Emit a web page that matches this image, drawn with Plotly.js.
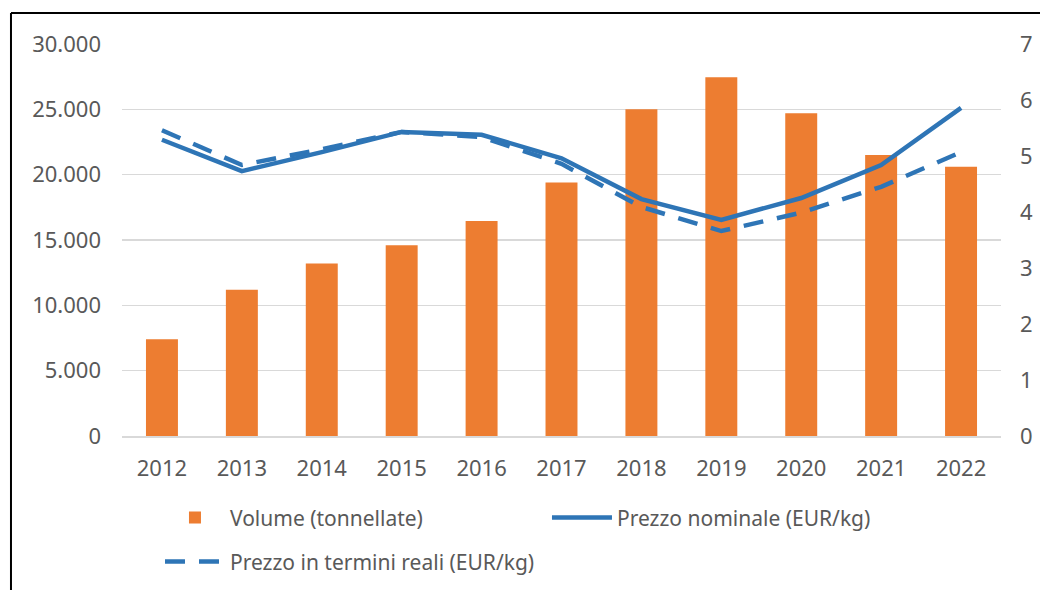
<!DOCTYPE html>
<html><head><meta charset="utf-8">
<script src="https://cdn.plot.ly/plotly-3.0.1.min.js"></script>
<style>html,body{margin:0;padding:0;background:#fff}#c{width:1040px;height:590px}</style>
</head><body><div id="c"></div>
<script>
const years = ['2012','2013','2014','2015','2016','2017','2018','2019','2020','2021','2022'];
const volume = [7400, 11200, 13200, 14600, 16450, 19400, 25000, 27450, 24700, 21500, 20600];
const nominalPrice = [5.29, 4.73, 5.07, 5.43, 5.38, 4.96, 4.23, 3.86, 4.25, 4.84, 5.86];
const realPrice = [5.46, 4.84, 5.12, 5.43, 5.34, 4.86, 4.09, 3.66, 3.99, 4.45, 5.07];
const seriesNames = ['Volume (tonnellate)', 'Prezzo nominale (EUR/kg)', 'Prezzo in termini reali (EUR/kg)'];

const grey = '#595959';
const tickFont = {family: 'Noto Sans, Open Sans, sans-serif', size: 22, color: grey};
const legFont = {family: 'Noto Sans, Open Sans, sans-serif', size: 21, color: grey};

const traces = [
  {type: 'bar', x: years, y: volume, name: seriesNames[0], marker: {color: '#ED7D31'}, width: 0.4, yaxis: 'y', legend: 'legend'},
  {type: 'scatter', mode: 'lines', x: years, y: nominalPrice, name: seriesNames[1], line: {color: '#2E75B6', width: 4.5}, yaxis: 'y2', legend: 'legend'},
  {type: 'scatter', mode: 'lines', x: years, y: realPrice, name: seriesNames[2], line: {color: '#2E75B6', width: 4.5, dash: '20px,14px'}, yaxis: 'y2', legend: 'legend2'}
];

const layout = {
  width: 1040, height: 590,
  margin: {l: 122, r: 39, t: 44, b: 154, autoexpand: false},
  paper_bgcolor: '#fff', plot_bgcolor: '#fff',
  font: tickFont,
  separators: ',.',
  showlegend: true,
  xaxis: {type: 'category', tickfont: tickFont, showgrid: false, showline: true, linecolor: '#D9D9D9', linewidth: 1.5, ticks: '', ticklabelstandoff: 12, range: [-0.5, 10.5]},
  yaxis: {range: [0, 30000], dtick: 5000, tickformat: ',d', tickfont: tickFont, gridcolor: '#D9D9D9', gridwidth: 1.5, zeroline: false, ticks: '', ticklabelstandoff: 20},
  yaxis2: {range: [0, 7], dtick: 1, overlaying: 'y', side: 'right', tickfont: tickFont, showgrid: false, zeroline: false, ticks: '', ticklabelstandoff: 18},
  legend: {orientation: 'h', x: 0.0432, y: -0.209, xanchor: 'left', yanchor: 'middle', font: legFont, entrywidth: 312, entrywidthmode: 'pixels', traceorder: 'normal', itemwidth: 60, bgcolor: 'rgba(0,0,0,0)'},
  legend2: {orientation: 'h', x: 0.0432, y: -0.321, xanchor: 'left', yanchor: 'middle', font: legFont, itemwidth: 60, bgcolor: 'rgba(0,0,0,0)'},
  shapes: [
    {type: 'line', xref: 'paper', yref: 'paper', x0: -0.1263, x1: -0.1263, y0: -0.5, y1: 1.079, line: {color: '#000', width: 2}},
    {type: 'line', xref: 'paper', yref: 'paper', x0: -0.1263, x1: 1.2, y0: 1.079, y1: 1.079, line: {color: '#000', width: 2}}
  ]
};
Plotly.newPlot('c', traces, layout, {displayModeBar: false, staticPlot: true});
</script></body></html>
